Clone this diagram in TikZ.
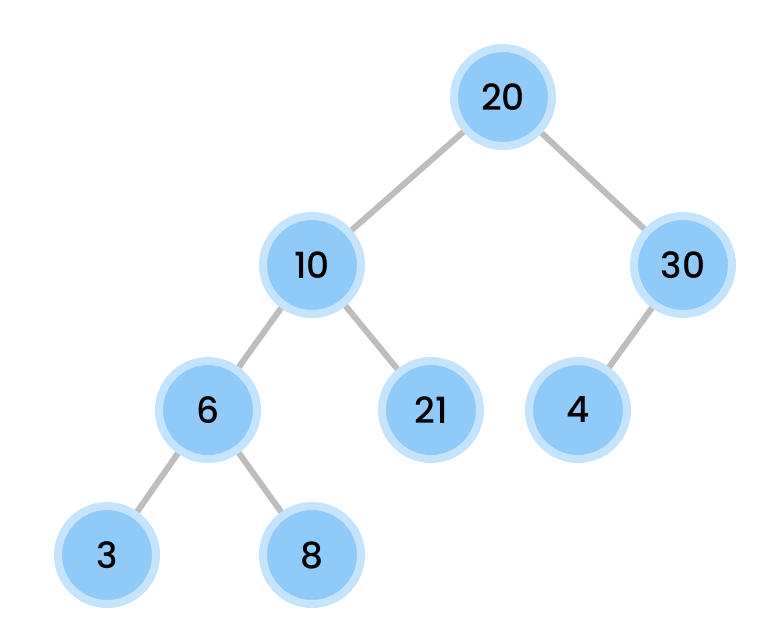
\documentclass[tikz,border=0pt]{standalone}
\usepackage{fontspec}
\setmainfont{Poppins}[UprightFont=* Medium]
\definecolor{nodefill}{HTML}{90CAF9}
\definecolor{noderim}{HTML}{C5E3FB}
\definecolor{edgegray}{HTML}{BDBDBD}
\begin{document}
\begin{tikzpicture}[x=1pt,y=-1pt,
  tnode/.style={circle, fill=nodefill, draw=noderim, line width=8pt, minimum size=98pt, inner sep=0pt, font=\fontsize{36}{40}\selectfont},
  tedge/.style={draw=edgegray, line width=6pt}]
\useasboundingbox (0,0) rectangle (765,638);
\fill[white] (0,0) rectangle (765,638);
\node[tnode] (n20) at (503,97) {20};
\node[tnode] (n10) at (312,265) {10};
\node[tnode] (n30) at (683,265) {30};
\node[tnode] (n6) at (208,410) {6};
\node[tnode] (n21) at (431,410) {21};
\node[tnode] (n4) at (578,410) {4};
\node[tnode] (n3) at (107,555) {3};
\node[tnode] (n8) at (312,555) {8};
\path[tedge] (n20) -- (n10);
\path[tedge] (n20) -- (n30);
\path[tedge] (n10) -- (n6);
\path[tedge] (n10) -- (n21);
\path[tedge] (n30) -- (n4);
\path[tedge] (n6) -- (n3);
\path[tedge] (n6) -- (n8);
\end{tikzpicture}
\end{document}
